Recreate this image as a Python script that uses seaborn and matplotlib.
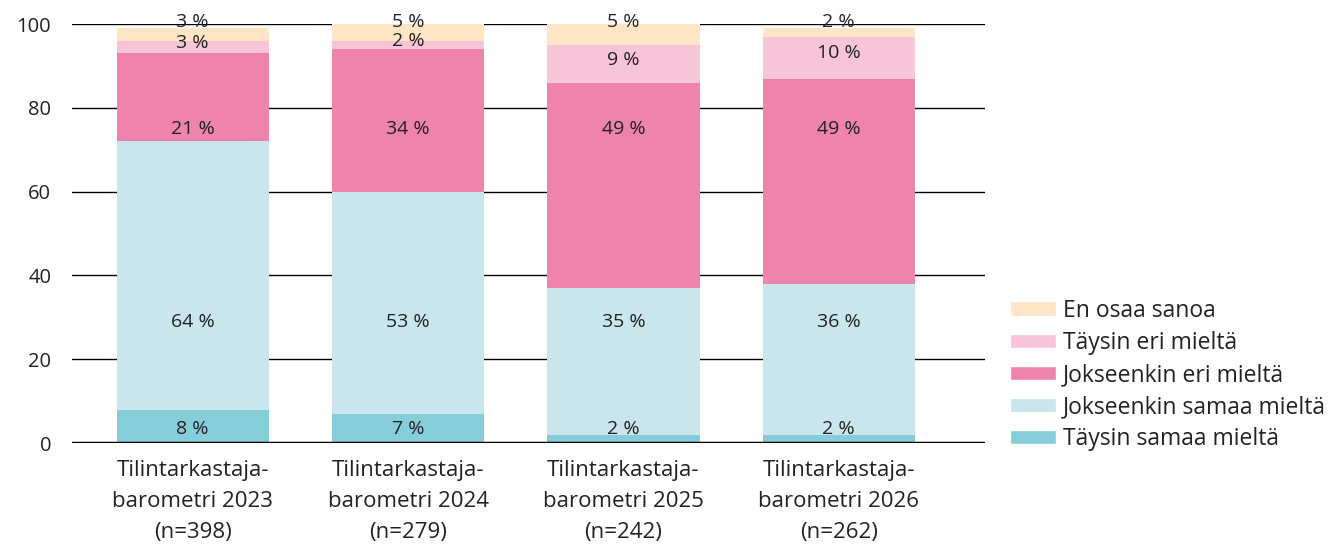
#!/usr/bin/env python

import numpy as np
import pandas as pd
import seaborn as sns
import matplotlib.pyplot as plt
from matplotlib.patches import Patch

categories = ["Tilintarkastaja-\nbarometri 2023\n(n=398)",
              "Tilintarkastaja-\nbarometri 2024\n(n=279)",
              "Tilintarkastaja-\nbarometri 2025\n(n=242)",
              "Tilintarkastaja-\nbarometri 2026\n(n=262)"]
series = ["Täysin samaa mieltä", "Jokseenkin samaa mieltä", "Jokseenkin eri mieltä",
          "Täysin eri mieltä", "En osaa sanoa"]
taysin_samaa = [8, 7, 2, 2]
jokseenkin_samaa = [64, 53, 35, 36]
jokseenkin_eri = [21, 34, 49, 49]
taysin_eri = [3, 2, 9, 10]
en_osaa = [3, 5, 5, 2]
yticks = [0, 20, 40, 60, 80, 100]

colors = ["#85cdd9", "#c8e6eb", "#ee84ab", "#f7c4d8", "#fde5c5"]


def create_plot():
    sns.set_style("white")
    plt.rcParams["font.family"] = ["Open Sans", "DejaVu Sans"]
    values = [taysin_samaa, jokseenkin_samaa, jokseenkin_eri, taysin_eri, en_osaa]
    cum = np.cumsum(np.array(values), axis=0)

    fig = plt.figure(figsize=(13.35, 5.47), dpi=100)
    ax = fig.add_axes([0.054, 0.19, 0.684, 0.766])

    # grid lines behind the bars
    for t in yticks[1:]:
        ax.axhline(t, color="black", lw=1, zorder=0)

    # stacked bars: draw the cumulative totals from the top down
    for i in range(len(series) - 1, -1, -1):
        df = pd.DataFrame({"cat": categories, "val": cum[i]})
        sns.barplot(data=df, x="cat", y="val", color=colors[i], width=0.707,
                    linewidth=0, saturation=1, ax=ax, zorder=2)

    ax.axhline(0, color="black", lw=2.5, zorder=3)

    # value labels
    for j in range(len(categories)):
        bottoms = [0] + list(cum[:-1, j])
        label_y = [3.3, 29, 75, (bottoms[3] + cum[3, j]) / 2 + 1, 100.6]
        for i in range(len(series)):
            ax.text(j, label_y[i], f"{values[i][j]} %", ha="center", va="center",
                    fontsize=14, color="#222222", zorder=4, clip_on=False)

    ax.set_ylim(0, 100)
    ax.set_xlim(-0.56, 3.68)
    ax.set_yticks(yticks)
    ax.set_xlabel("")
    ax.set_ylabel("")
    ax.tick_params(axis="y", labelsize=14.5, length=0, pad=15, labelcolor="#222222")
    ax.tick_params(axis="x", labelsize=16, length=0, pad=12, labelcolor="#222222")
    for lab in ax.get_xticklabels():
        lab.set_linespacing(1.62)
    sns.despine(ax=ax, left=True, bottom=True)

    handles = [Patch(facecolor=colors[i], label=series[i]) for i in range(len(series) - 1, -1, -1)]
    leg = ax.legend(handles=handles, loc="lower left", bbox_to_anchor=(1.005, -0.068), frameon=False,
                    fontsize=16.5, handlelength=2.0, handleheight=0.6, handletextpad=0.3,
                    labelspacing=0.35)
    for t in leg.get_texts():
        t.set_color("#222222")

    plt.savefig("out.png", dpi=100)
    plt.close()


def main():
    create_plot()


if __name__ == '__main__':
    main()
